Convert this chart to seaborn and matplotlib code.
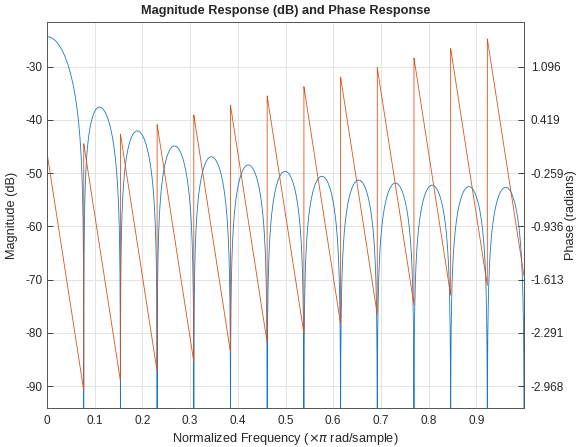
import numpy as np
import pandas as pd
import seaborn as sns
import matplotlib
matplotlib.use("Agg")
import matplotlib.pyplot as plt

# filter taps (26-point moving average, DC gain ~ -24.4 dB)
taps = [0.00233] * 26
n_points = 8192

mag_ticks = [-90, -80, -70, -60, -50, -40, -30]
phase_ticks = [-2.968, -2.291, -1.613, -0.936, -0.259, 0.419, 1.096]
freq_ticks = [0, 0.1, 0.2, 0.3, 0.4, 0.5, 0.6, 0.7, 0.8, 0.9]
mag_lim = (-94.1, -21.6)

# frequency response on a dense grid over [0, pi)
H = np.fft.fft(np.array(taps), 2 * n_points)[:n_points]
freq = np.arange(n_points) / n_points
df = pd.DataFrame({
    "freq": freq,
    "mag": 20 * np.log10(np.abs(H)),
    "phase": np.angle(H),
})

sns.set_style("white")
plt.rcParams["font.family"] = ["Liberation Sans", "DejaVu Sans"]
plt.rcParams["axes.unicode_minus"] = False

blue = "#1a78c2"
orange = "#D95319"
ink = "#262626"

fig = plt.figure(figsize=(5.77, 4.47), dpi=100)
ax = fig.add_axes([0.0815, 0.0872, 0.8266, 0.8636])
ax2 = ax.twinx()

sns.lineplot(data=df, x="freq", y="phase", ax=ax2, color=orange, linewidth=0.6)
sns.lineplot(data=df, x="freq", y="mag", ax=ax, color=blue, linewidth=0.6)

# right axis limits follow the left ones through the tick mapping
slope, icpt = np.polyfit(mag_ticks, phase_ticks, 1)
ax.set_xlim(0, freq[-1])
ax.set_ylim(*mag_lim)
ax2.set_ylim(slope * mag_lim[0] + icpt, slope * mag_lim[1] + icpt)

ax.set_xticks(freq_ticks)
ax.set_xticklabels([f"{t:g}" for t in freq_ticks])
ax.set_yticks(mag_ticks)
ax2.set_yticks(phase_ticks)
ax2.set_yticklabels([f"{t:.3f}" for t in phase_ticks])

ax.grid(True, color="#e3e3e3", linewidth=0.7)
ax.set_axisbelow(True)
for a in (ax, ax2):
    a.tick_params(direction="in", length=4, width=0.6, color=ink, labelsize=8.5, labelcolor=ink)
    for s in a.spines.values():
        s.set_color("#555555")
        s.set_linewidth(0.6)
ax.tick_params(axis="x", pad=5)
ax2.tick_params(axis="y", pad=5)

ax.set_xlabel("Normalized Frequency ($\\times\\pi$ rad/sample)", fontsize=9.2, color=ink, labelpad=3)
ax.set_ylabel("Magnitude (dB)", fontsize=9.2, color=ink)
ax2.set_ylabel("Phase (radians)", fontsize=9.2, color=ink)
ax.yaxis.set_label_coords(-0.06, 0.5)
ax2.yaxis.set_label_coords(1.087, 0.5)
ax.set_title("Magnitude Response (dB) and Phase Response", fontsize=9.2, fontweight="bold", pad=6)

fig.savefig("out.png", dpi=100)
